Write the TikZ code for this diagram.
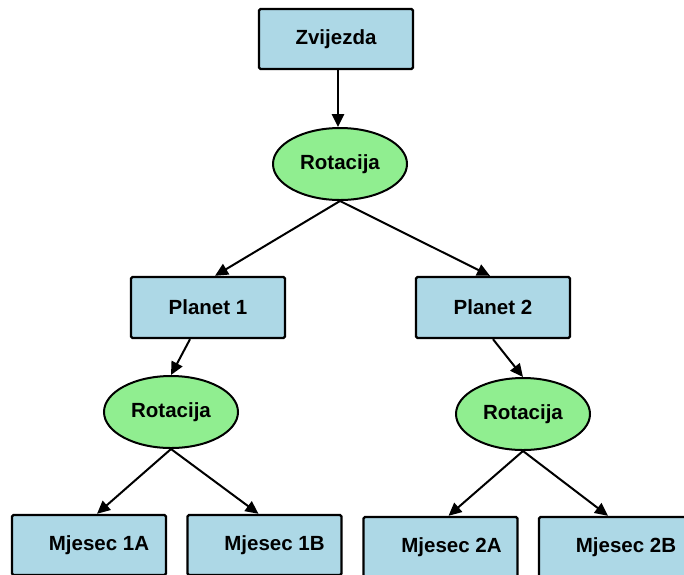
\documentclass[tikz,border=0pt]{standalone}
\usepackage{fontspec}
\setmainfont{Liberation Sans}
\usetikzlibrary{arrows.meta,shapes.geometric}
\definecolor{boxblue}{RGB}{173,216,230}
\definecolor{ellgreen}{RGB}{144,238,144}
\begin{document}
\begin{tikzpicture}[x=1pt,y=-1pt,
  txt/.style={font=\fontsize{20.5}{24}\selectfont\bfseries},
  boxnode/.style={txt,draw=black,line width=2.4pt,fill=boxblue,rounded corners=1.5pt,minimum width=154pt,minimum height=60pt,inner sep=0pt},
  rotnode/.style={txt,ellipse,draw=black,line width=2pt,fill=ellgreen,minimum width=134pt,minimum height=72pt,inner sep=0pt},
  conn/.style={draw=black,line width=2pt,-{Triangle[length=13pt,width=12pt]}}]
\useasboundingbox (0,0) rectangle (684,574);
\clip (0,0) rectangle (684,574);
\node[boxnode] (z) at (336,39) {Zvijezda};
\node[rotnode] (r0) at (340,164) {Rotacija};
\node[boxnode,minimum height=61pt] (p1) at (208,307.5) {Planet 1};
\node[boxnode,minimum height=61pt] (p2) at (493,307.5) {Planet 2};
\node[rotnode] (r1) at (171,412) {Rotacija};
\node[rotnode] (r2) at (523,414) {Rotacija};
\node[boxnode] (m1a) at (89,545) {\hspace*{20pt}Mjesec 1A};
\node[boxnode] (m1b) at (264.5,545) {\hspace*{20pt}Mjesec 1B};
\node[boxnode] (m2a) at (440.5,547) {\hspace*{22pt}Mjesec 2A};
\node[boxnode] (m2b) at (616,547) {\hspace*{20pt}Mjesec 2B};
\draw[conn,line width=2.6pt] ([xshift=2pt]z.south) -- ([xshift=2pt]z.south |- r0.north);
\draw[conn] (r0.south) -- ([xshift=7pt]p1.north);
\draw[conn] (r0.south) -- ([xshift=-3pt]p2.north);
\draw[conn] ([xshift=-18pt]p1.south) -- (r1.north);
\draw[conn] (p2.south) -- (r2.north);
\draw[conn] (r1.south) -- ([xshift=8pt]m1a.north);
\draw[conn] (r1.south) -- ([xshift=-6pt]m1b.north);
\draw[conn] (r2.south) -- ([xshift=8pt]m2a.north);
\draw[conn] (r2.south) -- ([xshift=-8pt]m2b.north);
\end{tikzpicture}
\end{document}
